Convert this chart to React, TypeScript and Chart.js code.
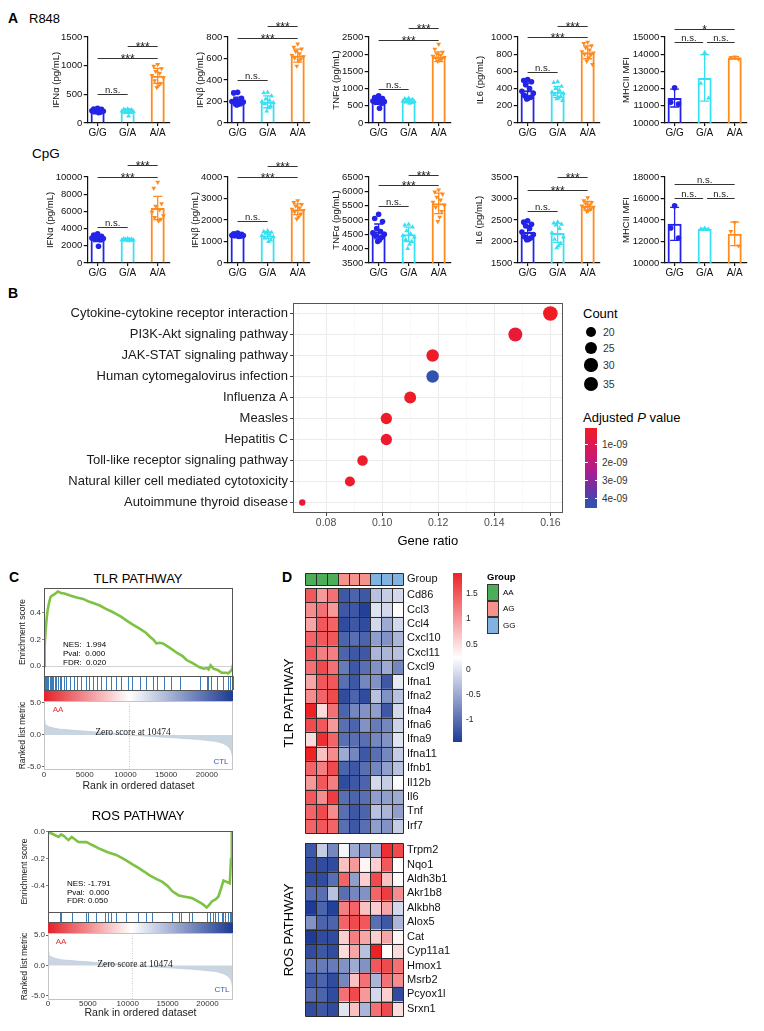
import React, { useEffect, useRef } from 'react';
import { Chart, registerables } from 'chart.js';

Chart.register(...registerables);

const SANS = '"Liberation Sans", Arial, Helvetica, sans-serif';
const SERIF = '"Liberation Serif", "Times New Roman", serif';
Chart.defaults.font.family = SANS;

/* ====================== Panel A data ====================== */
const GENOTYPES = ['G/G', 'G/A', 'A/A'];
const GEN_COLORS = ['#2323e8', '#38e0f2', '#ff8b1f'];
const JITTER = [0, -0.13, 0.13, -0.065, 0.065, -0.19, 0.19, -0.1, 0.1, 0.03, -0.03, 0.16];

// R848
const R848_IFNA_GG = [255, 245, 238, 230, 222, 212, 205, 198, 190, 180];
const R848_IFNA_GA = [245, 238, 230, 222, 215, 208, 200, 192, 185, 120];
const R848_IFNA_AA = [1020, 990, 950, 900, 870, 830, 790, 740, 690, 650, 620];
const R848_IFNA_MEAN = [215, 205, 823];
const R848_IFNA_SD = [28, 35, 130];
const R848_IFNA_SIG = [{ a: 0, b: 1, y: 500, t: 'n.s.' }, { a: 0, b: 2, y: 1130, t: '***' }, { a: 1, b: 2, y: 1350, t: '***' }];

const R848_IFNB_GG = [285, 280, 230, 215, 205, 200, 195, 190, 182, 175, 168];
const R848_IFNB_GA = [285, 280, 250, 222, 210, 200, 190, 178, 160, 140, 110];
const R848_IFNB_AA = [735, 705, 690, 665, 645, 630, 618, 605, 595, 580, 530];
const R848_IFNB_MEAN = [201, 197, 627];
const R848_IFNB_SD = [40, 55, 60];
const R848_IFNB_SIG = [{ a: 0, b: 1, y: 403, t: 'n.s.' }, { a: 0, b: 2, y: 791, t: '***' }, { a: 1, b: 2, y: 905, t: '***' }];

const R848_TNF_GG = [790, 740, 710, 680, 660, 640, 620, 600, 570, 430];
const R848_TNF_GA = [720, 700, 685, 670, 655, 640, 625, 610, 590, 570];
const R848_TNF_AA = [2290, 2150, 2060, 2010, 1970, 1940, 1910, 1890, 1860, 1830, 1800];
const R848_TNF_MEAN = [630, 640, 1925];
const R848_TNF_SD = [90, 50, 140];
const R848_TNF_SIG = [{ a: 0, b: 1, y: 1000, t: 'n.s.' }, { a: 0, b: 2, y: 2400, t: '***' }, { a: 1, b: 2, y: 2750, t: '***' }];

const R848_IL6_GG = [505, 495, 480, 445, 400, 370, 345, 320, 300, 290, 280];
const R848_IL6_GA = [480, 470, 425, 400, 380, 360, 345, 330, 310, 290, 280, 260];
const R848_IL6_AA = [940, 925, 900, 875, 850, 830, 815, 800, 790, 760, 720, 680];
const R848_IL6_MEAN = [380, 362, 822];
const R848_IL6_SD = [85, 65, 75];
const R848_IL6_SIG = [{ a: 0, b: 1, y: 589, t: 'n.s.' }, { a: 0, b: 2, y: 996, t: '***' }, { a: 1, b: 2, y: 1124, t: '***' }];

const R848_MHC_GG = [12050, 11200, 11100];
const R848_MHC_GA = [14100, 12300, 11450];
const R848_MHC_AA = [13850, 13800, 13720];
const R848_MHC_MEAN = [11450, 12620, 13790];
const R848_MHC_SD = [520, 1350, 65];
const R848_MHC_SIG = [{ a: 0, b: 0.95, y: 14690, t: 'n.s.' }, { a: 1.08, b: 2, y: 14690, t: 'n.s.' }, { a: 0, b: 2, y: 15465, t: '*' }];

// CpG
const CPG_IFNA_GG = [3400, 3250, 3100, 3000, 2950, 2900, 2850, 2780, 2700, 1950];
const CPG_IFNA_GA = [2850, 2820, 2790, 2760, 2730, 2700, 2680, 2650, 2620, 2580];
const CPG_IFNA_AA = [9400, 8700, 6900, 6600, 6200, 5900, 5500, 5300, 5100, 4900];
const CPG_IFNA_MEAN = [2890, 2720, 6400];
const CPG_IFNA_SD = [400, 90, 1350];
const CPG_IFNA_SIG = [{ a: 0, b: 1, y: 4186, t: 'n.s.' }, { a: 0, b: 2, y: 10000, t: '***' }, { a: 1, b: 2, y: 11434, t: '***' }];

const CPG_IFNB_GG = [1390, 1360, 1340, 1320, 1300, 1290, 1280, 1265, 1250, 1230];
const CPG_IFNB_GA = [1500, 1460, 1420, 1380, 1330, 1280, 1220, 1160, 1060, 1000];
const CPG_IFNB_AA = [2900, 2820, 2720, 2650, 2560, 2500, 2450, 2380, 2280, 2150, 2050];
const CPG_IFNB_MEAN = [1300, 1280, 2500];
const CPG_IFNB_SD = [50, 150, 250];
const CPG_IFNB_SIG = [{ a: 0, b: 1, y: 1969, t: 'n.s.' }, { a: 0, b: 2, y: 4000, t: '***' }, { a: 1, b: 2, y: 4527, t: '***' }];

const CPG_TNF_GG = [5200, 5050, 4950, 4700, 4600, 4550, 4500, 4450, 4400, 4300, 4250];
const CPG_TNF_GA = [4850, 4820, 4750, 4620, 4520, 4460, 4400, 4320, 4250, 4150, 4000];
const CPG_TNF_AA = [6050, 5980, 5900, 5800, 5700, 5620, 5520, 5450, 5300, 5100, 4950];
const CPG_TNF_MEAN = [4600, 4500, 5580];
const CPG_TNF_SD = [260, 250, 360];
const CPG_TNF_SIG = [{ a: 0, b: 1, y: 5477, t: 'n.s.' }, { a: 0, b: 2, y: 6233, t: '***' }, { a: 1, b: 2, y: 6581, t: '***' }];

const CPG_IL6_GG = [2480, 2450, 2400, 2360, 2300, 2220, 2160, 2110, 2080, 2050, 2040];
const CPG_IL6_GA = [2450, 2430, 2400, 2380, 2300, 2200, 2100, 2050, 1950, 1900, 1850];
const CPG_IL6_AA = [3020, 2950, 2910, 2880, 2850, 2830, 2800, 2780, 2750, 2720, 2700];
const CPG_IL6_MEAN = [2220, 2200, 2830];
const CPG_IL6_SD = [150, 220, 100];
const CPG_IL6_SIG = [{ a: 0, b: 1, y: 2717, t: 'n.s.' }, { a: 0, b: 2, y: 3205, t: '***' }, { a: 1, b: 2, y: 3492, t: '***' }];

const CPG_MHC_GG = [15330, 13260, 12330];
const CPG_MHC_GA = [13220, 13160, 13110];
const CPG_MHC_AA = [13780, 12950, 11600];
const CPG_MHC_MEAN = [13640, 13160, 12710];
const CPG_MHC_SD = [1540, 55, 1100];
const CPG_MHC_SIG = [{ a: 0, b: 0.95, y: 16047, t: 'n.s.' }, { a: 1.08, b: 2, y: 16047, t: 'n.s.' }, { a: 0, b: 2, y: 17380, t: 'n.s.' }];

const A_CHARTS = [
  { ax: 88, top: 37, tOff: 31, title: 'IFNα (pg/mL)', min: 0, max: 1500, step: 500, gg: R848_IFNA_GG, ga: R848_IFNA_GA, aa: R848_IFNA_AA, mean: R848_IFNA_MEAN, sd: R848_IFNA_SD, br: R848_IFNA_SIG },
  { ax: 228, top: 37, tOff: 27, title: 'IFNβ (pg/mL)', min: 0, max: 800, step: 200, gg: R848_IFNB_GG, ga: R848_IFNB_GA, aa: R848_IFNB_AA, mean: R848_IFNB_MEAN, sd: R848_IFNB_SD, br: R848_IFNB_SIG },
  { ax: 369, top: 37, tOff: 32, title: 'TNFα (pg/mL)', min: 0, max: 2500, step: 500, gg: R848_TNF_GG, ga: R848_TNF_GA, aa: R848_TNF_AA, mean: R848_TNF_MEAN, sd: R848_TNF_SD, br: R848_TNF_SIG },
  { ax: 518, top: 37, tOff: 37, title: 'IL6 (pg/mL)', min: 0, max: 1000, step: 200, gg: R848_IL6_GG, ga: R848_IL6_GA, aa: R848_IL6_AA, mean: R848_IL6_MEAN, sd: R848_IL6_SD, br: R848_IL6_SIG },
  { ax: 665, top: 37, tOff: 38, title: 'MHCII MFI', min: 10000, max: 15000, step: 1000, gg: R848_MHC_GG, ga: R848_MHC_GA, aa: R848_MHC_AA, mean: R848_MHC_MEAN, sd: R848_MHC_SD, br: R848_MHC_SIG },
  { ax: 88, top: 177, tOff: 37, title: 'IFNα (pg/mL)', min: 0, max: 10000, step: 2000, gg: CPG_IFNA_GG, ga: CPG_IFNA_GA, aa: CPG_IFNA_AA, mean: CPG_IFNA_MEAN, sd: CPG_IFNA_SD, br: CPG_IFNA_SIG },
  { ax: 228, top: 177, tOff: 32, title: 'IFNβ (pg/mL)', min: 0, max: 4000, step: 1000, gg: CPG_IFNB_GG, ga: CPG_IFNB_GA, aa: CPG_IFNB_AA, mean: CPG_IFNB_MEAN, sd: CPG_IFNB_SD, br: CPG_IFNB_SIG },
  { ax: 369, top: 177, tOff: 32, title: 'TNFα (pg/mL)', min: 3500, max: 6500, step: 500, gg: CPG_TNF_GG, ga: CPG_TNF_GA, aa: CPG_TNF_AA, mean: CPG_TNF_MEAN, sd: CPG_TNF_SD, br: CPG_TNF_SIG },
  { ax: 518, top: 177, tOff: 38, title: 'IL6 (pg/mL)', min: 1500, max: 3500, step: 500, gg: CPG_IL6_GG, ga: CPG_IL6_GA, aa: CPG_IL6_AA, mean: CPG_IL6_MEAN, sd: CPG_IL6_SD, br: CPG_IL6_SIG },
  { ax: 665, top: 177, tOff: 38, title: 'MHCII MFI', min: 10000, max: 18000, step: 2000, gg: CPG_MHC_GG, ga: CPG_MHC_GA, aa: CPG_MHC_AA, mean: CPG_MHC_MEAN, sd: CPG_MHC_SD, br: CPG_MHC_SIG },
];

/* ====================== Panel B data ====================== */
const PATHWAYS = [
  'Cytokine-cytokine receptor interaction',
  'PI3K-Akt signaling pathway',
  'JAK-STAT signaling pathway',
  'Human cytomegalovirus infection',
  'Influenza A',
  'Measles',
  'Hepatitis C',
  'Toll-like receptor signaling pathway',
  'Natural killer cell mediated cytotoxicity',
  'Autoimmune thyroid disease',
];
const GENE_RATIO = [0.160, 0.1475, 0.118, 0.118, 0.110, 0.1015, 0.1015, 0.093, 0.0885, 0.0715];
const GENE_COUNT = [36, 33, 27, 27, 25, 23, 23, 21, 20, 16];
const P_ADJ = [6e-11, 4.5e-10, 1.2e-10, 4.4e-9, 1.5e-10, 1.2e-10, 2.5e-10, 1.8e-10, 2.4e-10, 4.0e-10];
const B_MAJOR = [0.08, 0.10, 0.12, 0.14, 0.16];
const B_MINOR = [0.07, 0.09, 0.11, 0.13, 0.15];
const COUNT_BREAKS = [20, 25, 30, 35];
const P_BREAKS = [1e-9, 2e-9, 3e-9, 4e-9];
const P_BREAK_LABELS = ['1e-09', '2e-09', '3e-09', '4e-09'];

/* ====================== Panel C data ====================== */
const GSEA_X_TICKS = [0, 5000, 10000, 15000, 20000];
const ZERO_CROSS = 10474;
const TLR_ES_X = [0, 80, 200, 330, 450, 600, 800, 1000, 1300, 1700, 2100, 2500, 3200, 4000, 4800, 5500, 6200, 6850, 7600, 8300, 8900, 9500, 10200, 10950, 11800, 12500, 13000, 13400, 13800, 14200, 14600, 15500, 16300, 17000, 17500, 18300, 19100, 19600, 20000, 20200, 20450, 20800, 21300, 21800, 22300, 22600, 22900, 23100, 23200];
const TLR_ES_Y = [0, 0.15, 0.27, 0.36, 0.42, 0.47, 0.52, 0.53, 0.54, 0.56, 0.55, 0.545, 0.53, 0.515, 0.505, 0.485, 0.47, 0.455, 0.43, 0.41, 0.39, 0.37, 0.34, 0.31, 0.28, 0.25, 0.22, 0.2, 0.17, 0.175, 0.17, 0.135, 0.10, 0.075, 0.045, 0.02, -0.01, -0.02, -0.015, -0.025, 0.005, -0.02, -0.03, -0.05, -0.05, -0.055, -0.04, -0.02, 0.01];
const TLR_HITS = [80, 200, 330, 410, 530, 700, 820, 940, 1110, 1310, 1520, 1720, 1930, 2130, 2420, 2750, 3160, 3650, 4060, 4590, 5120, 5530, 6020, 6520, 7050, 7660, 8280, 8810, 9510, 10250, 10860, 11760, 12580, 13400, 13810, 14710, 15530, 16680, 19140, 19960, 20160, 20450, 21190, 22000, 22620, 22830, 23030, 23150];
const ROS_ES_X = [0, 600, 1320, 1650, 2000, 2560, 2975, 3400, 3800, 4400, 4830, 5300, 5660, 6300, 6900, 7500, 8550, 9200, 9800, 10600, 11450, 12100, 12700, 13500, 14340, 15000, 15600, 16400, 17200, 18060, 18700, 19300, 19900, 20300, 20540, 21000, 21360, 21700, 22000, 22400, 22800, 22950, 23050];
const ROS_ES_Y = [0, -0.015, -0.037, -0.017, -0.03, -0.06, -0.037, -0.055, -0.074, -0.075, -0.074, -0.09, -0.1, -0.12, -0.135, -0.15, -0.17, -0.19, -0.21, -0.24, -0.27, -0.295, -0.32, -0.345, -0.37, -0.4, -0.44, -0.47, -0.48, -0.49, -0.51, -0.53, -0.56, -0.535, -0.515, -0.5, -0.48, -0.42, -0.36, -0.37, -0.38, -0.2, 0.01];
const ROS_HITS = [1450, 1650, 2970, 4750, 5040, 6070, 7100, 7520, 7930, 8550, 9790, 11240, 12270, 13010, 15580, 16400, 16740, 17650, 18060, 19920, 20330, 20750, 20950, 21360, 21780, 21980, 22190, 22600, 22810, 22930];
const RANK_POS = [0, 100, 300, 600, 1000, 1500, 2000, 3000, 4000, 5000, 6000, 7000, 8000, 9000, 10000, 10474, 11000, 12000, 13000, 14000, 15000, 16000, 17000, 18000, 19000, 20000, 21000, 21500, 22000, 22500, 22800, 23000, 23100, 23200];
const RANK_METRIC = [2.2, 1.8, 1.5, 1.3, 1.15, 1.0, 0.9, 0.8, 0.68, 0.6, 0.5, 0.42, 0.33, 0.22, 0.1, 0, -0.07, -0.15, -0.22, -0.3, -0.38, -0.45, -0.55, -0.62, -0.72, -0.85, -1.0, -1.15, -1.35, -1.7, -2.1, -2.6, -3.2, -4.0];
const GSEA_RANK_TICKS = [-5, -2.5, 0, 2.5, 5];

/* ====================== Panel D data ====================== */
const SAMPLES = ['AA1', 'AA2', 'AA3', 'AG1', 'AG2', 'AG3', 'GG1', 'GG2', 'GG3'];
const SAMPLE_GROUP = ['AA', 'AA', 'AA', 'AG', 'AG', 'AG', 'GG', 'GG', 'GG'];
const GROUP_NAMES = ['AA', 'AG', 'GG'];
const GROUP_COLORS: any = { AA: '#4cae57', AG: '#f4928b', GG: '#80b2e2' };
const TLR_GENES = ['Cd86', 'Ccl3', 'Ccl4', 'Cxcl10', 'Cxcl11', 'Cxcl9', 'Ifna1', 'Ifna2', 'Ifna4', 'Ifna6', 'Ifna9', 'Ifna11', 'Ifnb1', 'Il12b', 'Il6', 'Tnf', 'Irf7'];
const TLR_Z = [
  [1.5, 1.0, 1.3, -1.2, -1.1, -1.2, -0.3, -0.2, -0.1],
  [1.1, 1.3, 1.0, -1.2, -1.2, -1.4, 0.0, -0.1, 0.25],
  [0.9, 1.5, 1.4, -1.3, -1.2, -1.3, -0.1, -0.5, -0.1],
  [1.4, 1.5, 1.5, -1.1, -1.0, -1.1, -0.6, -0.7, -0.4],
  [1.5, 1.2, 1.2, -1.1, -1.2, -1.2, -0.4, -0.4, -0.3],
  [1.3, 1.6, 1.3, -0.9, -1.2, -1.0, -0.7, -0.5, -0.8],
  [0.9, 1.5, 1.5, -1.0, -1.2, -0.8, -0.7, -1.2, 0.05],
  [1.1, 1.4, 1.6, -1.3, -1.1, -1.3, -0.3, -0.7, -0.3],
  [1.9, 0.5, 1.3, -1.1, -0.8, -0.7, -0.6, -1.2, -0.1],
  [1.6, 1.5, 1.0, -1.0, -1.1, -0.7, -0.9, -0.8, -0.15],
  [0.5, 1.8, 1.4, -1.0, -1.0, -1.0, -0.8, -0.7, 0.0],
  [1.9, 0.7, 1.1, -0.5, -0.8, -1.2, -1.0, -0.8, -0.2],
  [1.4, 1.2, 1.6, -1.1, -1.2, -1.0, -0.8, -0.6, -0.3],
  [1.0, 1.5, 1.2, -1.3, -1.2, -1.1, -0.1, -0.2, 0.2],
  [1.5, 1.1, 1.7, -1.0, -1.1, -1.0, -0.6, -0.6, -0.5],
  [1.4, 1.6, 1.1, -1.0, -1.2, -1.1, -0.3, -0.4, -0.6],
  [1.4, 1.5, 1.4, -1.0, -1.2, -1.0, -0.6, -0.7, -0.2],
];
const ROS_GENES = ['Trpm2', 'Nqo1', 'Aldh3b1', 'Akr1b8', 'Alkbh8', 'Alox5', 'Cat', 'Cyp11a1', 'Hmox1', 'Msrb2', 'Pcyox1l', 'Srxn1'];
const ROS_Z = [
  [-1.2, -0.2, -0.8, 0.15, -0.5, -0.7, -0.5, 1.8, 1.6],
  [-1.3, -1.3, -1.3, 0.7, 1.0, 0.3, 0.6, 1.5, 0.25],
  [-1.3, -1.3, -1.0, 1.4, -0.6, 0.6, 1.6, 0.7, 0.25],
  [-1.0, -1.0, -0.3, -1.0, -0.8, -0.7, 1.4, 1.7, 1.1],
  [-1.5, -1.1, -1.4, 1.2, 1.4, 0.7, 0.6, 0.9, -0.1],
  [-0.7, -1.1, -1.1, 1.4, 1.6, 1.5, -1.0, -1.2, -0.4],
  [-1.5, -1.3, -1.3, 0.6, 1.2, 0.9, 0.6, 0.9, 0.3],
  [-1.3, -1.2, -1.3, 0.5, 0.9, -0.3, 1.9, 0.25, 0.5],
  [-0.9, -0.9, -0.9, -0.7, -0.5, -0.7, 1.5, 1.6, 1.3],
  [-1.2, -1.1, -1.3, -0.8, 0.7, 1.3, -0.4, 1.3, 1.1],
  [-1.0, -1.1, -1.3, 1.3, 1.6, 1.0, -0.1, 0.6, -1.3],
  [-1.3, -1.2, -1.3, 0.0, 0.7, -0.4, 1.3, 1.6, 0.5],
];
const Z_BREAKS = [1.5, 1, 0.5, 0, -0.5, -1];

/* ====================== colour helpers ====================== */
const clamp01 = (t: number) => Math.max(0, Math.min(1, t));
function rampColor(stops: any[], t: number) {
  t = clamp01(t);
  for (let i = 1; i < stops.length; i++) {
    if (t <= stops[i][0]) {
      const [t0, c0] = stops[i - 1];
      const [t1, c1] = stops[i];
      const u = (t - t0) / (t1 - t0);
      return `rgb(${c0.map((v: number, k: number) => Math.round(v + (c1[k] - v) * u)).join(',')})`;
    }
  }
  const c = stops[stops.length - 1][1];
  return `rgb(${c.join(',')})`;
}
function cssGradient(stops: any[]) {
  return `linear-gradient(to bottom, ${stops.map((s) => `rgb(${s[1].join(',')}) ${s[0] * 100}%`).join(', ')})`;
}
const P_MIN = 5.6e-11;
const P_MAX = 4.5e-9;
const P_STOPS = [[0, [240, 28, 36]], [0.3, [214, 22, 102]], [0.55, [168, 30, 146]], [0.8, [96, 56, 166]], [1, [42, 86, 176]]];
const pColor = (p: number) => rampColor(P_STOPS, (p - P_MIN) / (P_MAX - P_MIN));
const C_MIN = 16;
const C_MAX = 36;
const countRadius = (c: number) => 3.2 + 4.1 * Math.sqrt(Math.max(0, (c - C_MIN) / (C_MAX - C_MIN)));
const Z_LO = -1.44;
const Z_HI = 1.9;
const Z_STOPS = [[0, [236, 34, 39]], [0.5, [255, 255, 255]], [1, [30, 60, 150]]];
const zColor = (z: number) => rampColor(Z_STOPS, (Z_HI - z) / (Z_HI - Z_LO));

/* ====================== text helper ====================== */
function Txt(p: any) {
  const { x, y, s, c = '#000', a = 'left', f = SANS, w = 'normal', rot = false, it = false } = p;
  const tx = a === 'center' ? '-50%' : a === 'right' ? '-100%' : '0';
  const style: any = {
    position: 'absolute', left: x, top: y - s / 2, fontSize: s, lineHeight: `${s}px`, fontFamily: f,
    fontWeight: w, color: c, whiteSpace: 'pre', transform: `translateX(${tx})`, fontStyle: it ? 'italic' : 'normal',
  };
  if (rot) {
    style.top = y;
    style.transform = 'translate(-50%, -50%) rotate(-90deg)';
  }
  return <div style={style}>{p.children}</div>;
}

/* ====================== Panel A chart ====================== */
function SmallBar(p: any) {
  const ref = useRef<HTMLCanvasElement>(null);
  const PAD_T = 28, PLOT_W = 82, PLOT_H = 86, XAX_H = 18, PAD_R = 6;
  const yW = p.tOff + 5.7;
  const W = Math.ceil(yW + PLOT_W + PAD_R);
  const H = PAD_T + PLOT_H + XAX_H;
  useEffect(() => {
    const groups = [p.gg, p.ga, p.aa];
    const styles = ['circle', 'triangle', 'triangle'];
    const rots = [0, 0, 180];
    const errPlugin = {
      id: 'err',
      afterDatasetDraw(chart: any, args: any) {
        if (args.index !== 0) return;
        const { ctx, scales: { x, y } } = chart;
        ctx.save();
        p.mean.forEach((m: number, i: number) => {
          const px = x.getPixelForValue(i);
          const hi = y.getPixelForValue(m + p.sd[i]);
          const loV = m - p.sd[i];
          const lo = y.getPixelForValue(Math.max(loV, y.min));
          ctx.strokeStyle = GEN_COLORS[i];
          ctx.lineWidth = 1.3;
          ctx.beginPath();
          ctx.moveTo(px, hi); ctx.lineTo(px, lo);
          ctx.moveTo(px - 4.5, hi); ctx.lineTo(px + 4.5, hi);
          if (loV > y.min) { ctx.moveTo(px - 4.5, lo); ctx.lineTo(px + 4.5, lo); }
          ctx.stroke();
        });
        ctx.restore();
      },
    };
    const sigPlugin = {
      id: 'sig',
      afterDraw(chart: any) {
        const { ctx, scales: { x, y } } = chart;
        ctx.save();
        p.br.forEach((b: any) => {
          const py = Math.round(y.getPixelForValue(b.y)) + 0.5;
          const x1 = x.getPixelForValue(b.a);
          const x2 = x.getPixelForValue(b.b);
          ctx.strokeStyle = '#333';
          ctx.lineWidth = 1;
          ctx.beginPath(); ctx.moveTo(x1, py); ctx.lineTo(x2, py); ctx.stroke();
          const star = b.t !== 'n.s.';
          ctx.font = `${star ? 12 : 9.5}px ${SANS}`;
          ctx.fillStyle = '#222';
          ctx.textAlign = 'center';
          ctx.textBaseline = 'alphabetic';
          ctx.fillText(b.t, (x1 + x2) / 2, star ? py + 4 : py - 1.5);
        });
        ctx.restore();
      },
    };
    const axisCol = '#111';
    const chart = new Chart(ref.current as HTMLCanvasElement, {
      type: 'bar',
      data: {
        datasets: [
          {
            type: 'bar', data: p.mean.map((m: number, i: number) => ({ x: i, y: m })),
            backgroundColor: 'rgba(255,255,255,0)', borderColor: GEN_COLORS, borderWidth: 2,
            barPercentage: 0.52, categoryPercentage: 0.9, order: 2,
          },
          ...groups.map((pts: number[], g: number) => ({
            type: 'scatter', data: pts.map((v, i) => ({ x: g + JITTER[i % JITTER.length], y: v })),
            pointStyle: styles[g], pointRotation: rots[g], pointRadius: 2.8,
            pointBackgroundColor: GEN_COLORS[g], pointBorderColor: GEN_COLORS[g], pointBorderWidth: 0,
            showLine: false, clip: false, order: 1,
          })),
        ],
      } as any,
      options: {
        responsive: false, animation: false, devicePixelRatio: 1,
        layout: { padding: { top: PAD_T, right: W - yW - PLOT_W, bottom: 0, left: 0 } },
        plugins: { legend: { display: false }, tooltip: { enabled: false } },
        scales: {
          x: {
            type: 'linear', min: -0.33, max: 2.4, offset: false,
            afterBuildTicks: (s: any) => { s.ticks = [0, 1, 2].map((v) => ({ value: v })); },
            ticks: { callback: (v: any) => GENOTYPES[v] ?? '', font: { family: SANS, size: 10 }, color: axisCol, padding: 1, maxRotation: 0, autoSkip: false },
            grid: { offset: false, drawOnChartArea: false, tickLength: 3, color: axisCol, lineWidth: 1.2 },
            border: { color: axisCol, width: 1.2 },
            afterFit: (s: any) => { s.height = XAX_H; },
          },
          y: {
            type: 'linear', min: p.min, max: p.max,
            ticks: { stepSize: p.step, callback: (v: any) => String(v), font: { family: SANS, size: 9.5 }, color: axisCol, padding: 1.5, autoSkip: false },
            grid: { drawOnChartArea: false, tickLength: 4, color: axisCol, lineWidth: 1.2 },
            border: { color: axisCol, width: 1.2 },
            title: { display: true, text: p.title, font: { family: SANS, size: 9.5 }, color: axisCol, padding: 0 },
            afterFit: (s: any) => { s.width = yW; },
          },
        },
      } as any,
      plugins: [errPlugin, sigPlugin],
    });
    return () => chart.destroy();
  }, []);
  return <canvas ref={ref} width={W} height={H} style={{ position: 'absolute', left: p.ax - yW, top: p.top - PAD_T, width: W, height: H }} />;
}

/* ====================== Panel B chart ====================== */
function DotPlot() {
  const ref = useRef<HTMLCanvasElement>(null);
  const PAD_T = 12;
  const LEFT = 60, TOP = 303 - PAD_T, W = 510, H = PAD_T + 210 + 36;
  useEffect(() => {
    const isMajor = (v: number) => B_MAJOR.some((m) => Math.abs(m - v) < 1e-6);
    const ticks = [...B_MAJOR, ...B_MINOR].sort((a, b) => a - b);
    const borderPlugin = {
      id: 'panelBorder',
      afterDatasetsDraw(chart: any) {
        const { ctx, chartArea: ca } = chart;
        ctx.save();
        ctx.strokeStyle = '#555';
        ctx.lineWidth = 1;
        ctx.strokeRect(Math.round(ca.left) + 0.5, Math.round(ca.top) + 0.5, Math.round(ca.right - ca.left) - 1, Math.round(ca.bottom - ca.top) - 1);
        ctx.restore();
      },
    };
    const chart = new Chart(ref.current as HTMLCanvasElement, {
      type: 'bubble',
      data: {
        datasets: [{
          data: PATHWAYS.map((pw, i) => ({ x: GENE_RATIO[i], y: pw, r: countRadius(GENE_COUNT[i]) })),
          backgroundColor: P_ADJ.map(pColor), borderWidth: 0, hoverBorderWidth: 0,
        }],
      } as any,
      options: {
        responsive: false, animation: false, devicePixelRatio: 1,
        layout: { padding: { top: PAD_T, right: 4, bottom: 0, left: 0 } },
        plugins: { legend: { display: false }, tooltip: { enabled: false } },
        scales: {
          x: {
            type: 'linear', min: 0.0682, max: 0.1644,
            afterBuildTicks: (s: any) => { s.ticks = ticks.map((v) => ({ value: v })); },
            ticks: { callback: (v: any) => (isMajor(v) ? Number(v).toFixed(2) : ''), font: { family: SANS, size: 10.5 }, color: '#4d4d4d', padding: 1, autoSkip: false, maxRotation: 0 },
            grid: {
              color: (c: any) => (c.tick && isMajor(c.tick.value) ? '#ebebeb' : '#f5f5f5'),
              lineWidth: (c: any) => (c.tick && isMajor(c.tick.value) ? 1 : 0.6),
              tickColor: (c: any) => (c.tick && isMajor(c.tick.value) ? '#444' : 'rgba(0,0,0,0)'),
              tickLength: 3,
            },
            border: { display: false },
            title: { display: true, text: 'Gene ratio', font: { family: SANS, size: 13 }, color: '#000', padding: 0 },
            afterFit: (s: any) => { s.height = 36; },
          },
          y: {
            type: 'category', labels: PATHWAYS, offset: true,
            ticks: { font: { family: SANS, size: 13 }, color: '#1a1a1a', padding: 2, autoSkip: false },
            grid: { color: '#ebebeb', tickColor: '#444', tickLength: 3 },
            border: { display: false },
            afterFit: (s: any) => { s.width = 233; },
          },
        },
      } as any,
      plugins: [borderPlugin],
    });
    return () => chart.destroy();
  }, []);
  return <canvas ref={ref} width={W} height={H} style={{ position: 'absolute', left: LEFT, top: TOP, width: W, height: H }} />;
}

/* ====================== Panel C chart ====================== */
function Gsea(p: any) {
  const ref = useRef<HTMLCanvasElement>(null);
  const PAD_T = 6, PAD_R = 4, RIGHT = 233;
  const chartH = p.wES + p.wBand + p.wRank;
  const W = p.yW + (RIGHT - p.ax) + PAD_R;
  const H = PAD_T + chartH + p.xAxH;
  useEffect(() => {
    const gseaPlugin = {
      id: 'gsea',
      afterDatasetsDraw(chart: any) {
        const { ctx, chartArea: ca, scales } = chart;
        const x = scales.x, es = scales.yES, band = scales.yBand, rk = scales.yRank;
        ctx.save();
        const gTop = band.getPixelForValue(p.gradFrac);
        const gBot = band.getPixelForValue(0);
        const zf = (x.getPixelForValue(ZERO_CROSS) - ca.left) / (ca.right - ca.left);
        const grad = ctx.createLinearGradient(ca.left, 0, ca.right, 0);
        grad.addColorStop(0, '#e4222a');
        grad.addColorStop(zf, '#ffffff');
        grad.addColorStop(1, '#1b3a93');
        ctx.fillStyle = grad;
        ctx.fillRect(ca.left, gTop, ca.right - ca.left, gBot - gTop);
        const hTop = band.getPixelForValue(1);
        ctx.strokeStyle = '#3b7bb8';
        ctx.lineWidth = 1;
        ctx.beginPath();
        p.hits.forEach((h: number) => {
          const px = Math.round(x.getPixelForValue(h)) + 0.5;
          ctx.moveTo(px, hTop); ctx.lineTo(px, gTop);
        });
        ctx.stroke();
        ctx.strokeStyle = '#555';
        ctx.strokeRect(ca.left + 0.5, Math.round(es.top) + 0.5, ca.right - ca.left - 1, Math.round(es.bottom - es.top));
        ctx.strokeRect(ca.left + 0.5, Math.round(hTop) + 0.5, ca.right - ca.left - 1, Math.round(gTop - hTop));
        ctx.strokeStyle = '#c4c4c4';
        ctx.strokeRect(ca.left + 0.5, Math.round(rk.top) + 0.5, ca.right - ca.left - 1, Math.round(rk.bottom - rk.top) - 1);
        const zx = Math.round(x.getPixelForValue(ZERO_CROSS)) + 0.5;
        ctx.strokeStyle = '#c8c8c8';
        ctx.setLineDash([1, 1.5]);
        ctx.beginPath(); ctx.moveTo(zx, rk.top); ctx.lineTo(zx, rk.bottom); ctx.stroke();
        ctx.restore();
      },
    };
    const tickFont = { family: SANS, size: 8 };
    const chart = new Chart(ref.current as HTMLCanvasElement, {
      type: 'line',
      data: {
        datasets: [
          {
            data: p.esX.map((r: number, i: number) => ({ x: r, y: p.esY[i] })), yAxisID: 'yES',
            borderColor: '#7dc242', borderWidth: 2.6, pointRadius: 0, tension: 0, fill: false,
          },
          {
            data: RANK_POS.map((r, i) => ({ x: r, y: RANK_METRIC[i] })), yAxisID: 'yRank',
            borderColor: '#b9c8d6', backgroundColor: '#c9d5e1', borderWidth: 0.6, pointRadius: 0, tension: 0, fill: 'origin',
          },
        ],
      } as any,
      options: {
        responsive: false, animation: false, devicePixelRatio: 1,
        layout: { padding: { top: PAD_T, right: PAD_R, bottom: 0, left: 0 } },
        plugins: { legend: { display: false }, tooltip: { enabled: false } },
        scales: {
          x: {
            type: 'linear', min: 0, max: p.xMax,
            afterBuildTicks: (s: any) => { s.ticks = GSEA_X_TICKS.map((v) => ({ value: v })); },
            ticks: { font: tickFont, color: '#333', padding: p.xTickPad, maxRotation: 0, autoSkip: false, callback: (v: any) => String(v) },
            grid: { display: false, drawTicks: false },
            border: { display: false },
            title: { display: true, text: 'Rank in ordered dataset', font: { family: SANS, size: 10.5 }, color: '#222', padding: 0 },
            afterFit: (s: any) => { s.height = p.xAxH; },
          },
          yES: {
            type: 'linear', position: 'left', stack: 'gsea', stackWeight: p.wES, weight: 3,
            min: p.esMin, max: p.esMax,
            afterBuildTicks: (s: any) => { s.ticks = p.esTicks.map((v: number) => ({ value: v })); },
            ticks: { font: tickFont, color: '#333', padding: 1, callback: (v: any) => Number(v).toFixed(1) },
            grid: {
              color: (c: any) => (c.tick && Math.abs(c.tick.value) < 1e-9 ? '#c8c8c8' : 'rgba(0,0,0,0)'),
              tickColor: '#666', tickLength: 2, lineWidth: 0.8,
            },
            border: { display: false },
            title: { display: true, text: 'Enrichment score', font: { family: SANS, size: 8.5 }, color: '#222', padding: 0 },
            afterFit: (s: any) => { s.width = p.yW; },
          },
          yBand: {
            type: 'linear', position: 'left', stack: 'gsea', stackWeight: p.wBand, weight: 2,
            min: 0, max: 1,
            ticks: { display: false },
            grid: { display: false, drawTicks: false },
            border: { display: false },
            afterFit: (s: any) => { s.width = p.yW; },
          },
          yRank: {
            type: 'linear', position: 'left', stack: 'gsea', stackWeight: p.wRank, weight: 1,
            min: p.rankMin, max: p.rankMax,
            afterBuildTicks: (s: any) => { s.ticks = GSEA_RANK_TICKS.map((v) => ({ value: v })); },
            ticks: { font: tickFont, color: '#333', padding: 1, callback: (v: any) => Number(v).toFixed(1) },
            grid: { drawOnChartArea: false, tickColor: '#666', tickLength: 2 },
            border: { display: false },
            title: { display: true, text: 'Ranked list metric', font: { family: SANS, size: 8.5 }, color: '#222', padding: 0 },
            afterFit: (s: any) => { s.width = p.yW; },
          },
        },
      } as any,
      plugins: [gseaPlugin],
    });
    return () => chart.destroy();
  }, []);
  return <canvas ref={ref} width={W} height={H} style={{ position: 'absolute', left: p.ax - p.yW, top: p.esTop - PAD_T, width: W, height: H }} />;
}

/* ====================== Panel D chart ====================== */
function Heat(p: any) {
  const ref = useRef<HTMLCanvasElement>(null);
  const PAD = 12, LEFT = 305, PLOT_W = 98, AXW = 70;
  const H = PAD * 2 + p.rowH * p.labels.length;
  const W = 2 + PLOT_W + AXW;
  useEffect(() => {
    const gridPlugin = {
      id: 'cells',
      afterDatasetsDraw(chart: any) {
        const { ctx, scales: { x, y } } = chart;
        const n = p.labels.length;
        const top = Math.round(y.getPixelForValue(-0.5)) + 0.5, bot = Math.round(y.getPixelForValue(n - 0.5)) + 0.5;
        const l = Math.round(x.getPixelForValue(0)) + 0.5, r = Math.round(x.getPixelForValue(SAMPLES.length)) + 0.5;
        ctx.save();
        ctx.strokeStyle = '#2b2b2b';
        ctx.lineWidth = 1;
        ctx.beginPath();
        for (let k = 0; k <= SAMPLES.length; k++) {
          const px = Math.round(x.getPixelForValue(k)) + 0.5;
          ctx.moveTo(px, top); ctx.lineTo(px, bot);
        }
        for (let i = 0; i <= n; i++) {
          const py = Math.round(y.getPixelForValue(i - 0.5)) + 0.5;
          ctx.moveTo(l, py); ctx.lineTo(r, py);
        }
        ctx.stroke();
        ctx.restore();
      },
    };
    const chart = new Chart(ref.current as HTMLCanvasElement, {
      type: 'bar',
      data: {
        labels: p.labels,
        datasets: SAMPLES.map((s, j) => ({
          label: s,
          data: p.labels.map(() => [j, j + 1]),
          backgroundColor: p.cells.map((row: string[]) => row[j]),
          borderWidth: 0, barPercentage: 1, categoryPercentage: 1, grouped: false,
        })),
      } as any,
      options: {
        indexAxis: 'y', responsive: false, animation: false, devicePixelRatio: 1,
        layout: { padding: { top: PAD, bottom: PAD, left: 2, right: 0 } },
        plugins: { legend: { display: false }, tooltip: { enabled: false } },
        scales: {
          x: { type: 'linear', min: 0, max: SAMPLES.length, display: false },
          y: {
            type: 'category', position: 'right', offset: true,
            grid: { display: false, drawTicks: false },
            border: { display: false },
            ticks: { font: { family: SANS, size: 11 }, color: '#111', padding: 4, autoSkip: false },
            afterFit: (s: any) => { s.width = AXW; },
          },
        },
      } as any,
      plugins: [gridPlugin],
    });
    return () => chart.destroy();
  }, []);
  return <canvas ref={ref} width={W} height={H} style={{ position: 'absolute', left: LEFT - 2, top: p.top - PAD, width: W, height: H }} />;
}

/* ====================== App ====================== */
export default function App() {
  const pY = (v: number) => 428 + ((v - P_MIN) / (P_MAX - P_MIN)) * 80;
  const zY = (v: number) => 573 + ((Z_HI - v) / (Z_HI - Z_LO)) * 169;
  const tlrCells = TLR_Z.map((row) => row.map(zColor));
  const rosCells = ROS_Z.map((row) => row.map(zColor));
  const groupCells = [SAMPLE_GROUP.map((g) => GROUP_COLORS[g])];
  return (
    <div style={{ position: 'absolute', left: 0, top: 0, width: 764, height: 1031, background: '#fff', fontFamily: SANS, overflow: 'hidden' }}>
      {/* Panel A */}
      <Txt x={8} y={18} s={14} w="bold">A</Txt>
      <Txt x={29} y={18} s={13}>R848</Txt>
      <Txt x={32} y={154} s={13.5}>CpG</Txt>
      {A_CHARTS.map((c, i) => <SmallBar key={i} {...c} />)}

      {/* Panel B */}
      <Txt x={8} y={293} s={14} w="bold">B</Txt>
      <DotPlot />
      <Txt x={583} y={313} s={13}>Count</Txt>
      {COUNT_BREAKS.map((c, i) => {
        const r = countRadius(c);
        const cy = [332, 348, 365, 384][i];
        return (
          <React.Fragment key={c}>
            <div style={{ position: 'absolute', left: 591 - r, top: cy - r, width: 2 * r, height: 2 * r, borderRadius: '50%', background: '#000' }} />
            <Txt x={603} y={cy} s={10.5} c="#333">{String(c)}</Txt>
          </React.Fragment>
        );
      })}
      <Txt x={583} y={417} s={13}>Adjusted <i>P</i> value</Txt>
      <div style={{ position: 'absolute', left: 585, top: 428, width: 12, height: 80, background: cssGradient(P_STOPS) }} />
      {P_BREAKS.map((v, i) => (
        <React.Fragment key={v}>
          <div style={{ position: 'absolute', left: 585, top: pY(v) - 0.5, width: 2.5, height: 1, background: '#fff' }} />
          <div style={{ position: 'absolute', left: 594.5, top: pY(v) - 0.5, width: 2.5, height: 1, background: '#fff' }} />
          <Txt x={602} y={pY(v)} s={10} c="#333">{P_BREAK_LABELS[i]}</Txt>
        </React.Fragment>
      ))}

      {/* Panel C */}
      <Txt x={9} y={577} s={14} w="bold">C</Txt>
      <Txt x={138} y={578} s={13} a="center">TLR PATHWAY</Txt>
      <Gsea ax={44} esTop={588} wES={88} wBand={25} wRank={69} gradFrac={0.44} esMin={-0.075} esMax={0.587} esTicks={[0, 0.2, 0.4]}
        rankMin={-5.47} rankMax={5.3} xMax={23200} xAxH={22} xTickPad={0} yW={26} esX={TLR_ES_X} esY={TLR_ES_Y} hits={TLR_HITS} />
      <Txt x={63} y={645} s={8}>{'NES:  1.994'}</Txt>
      <Txt x={63} y={654} s={8}>{'Pval:  0.000'}</Txt>
      <Txt x={63} y={663} s={8}>{'FDR:  0.020'}</Txt>
      <Txt x={58} y={710} s={8} a="center" c="#e3302f">AA</Txt>
      <Txt x={221} y={762} s={8} a="center" c="#3a5aa8">CTL</Txt>
      <Txt x={133} y={733} s={9.5} a="center" f={SERIF} c="#222">Zero score at 10474</Txt>

      <Txt x={138} y={815} s={13} a="center">ROS PATHWAY</Txt>
      <Gsea ax={48} esTop={831} wES={81} wBand={21} wRank={67} gradFrac={0.52} esMin={-0.593} esMax={0.0074} esTicks={[-0.4, -0.2, 0]}
        rankMin={-5.66} rankMax={5.33} xMax={23200} xAxH={19} xTickPad={-1.5} yW={28} esX={ROS_ES_X} esY={ROS_ES_Y} hits={ROS_HITS} />
      <Txt x={67} y={884} s={8}>{'NES: -1.791'}</Txt>
      <Txt x={67} y={893} s={8}>{'Pval:  0.000'}</Txt>
      <Txt x={67} y={901} s={8}>{'FDR: 0.050'}</Txt>
      <Txt x={61} y={942} s={8} a="center" c="#e3302f">AA</Txt>
      <Txt x={222} y={990} s={8} a="center" c="#3a5aa8">CTL</Txt>
      <Txt x={135} y={965} s={9.5} a="center" f={SERIF} c="#222">Zero score at 10474</Txt>

      {/* Panel D */}
      <Txt x={282} y={577} s={14} w="bold">D</Txt>
      <Heat labels={['Group']} cells={groupCells} top={573} rowH={12} />
      <Heat labels={TLR_GENES} cells={tlrCells} top={588} rowH={245 / 17} />
      <Heat labels={ROS_GENES} cells={rosCells} top={843} rowH={173 / 12} />
      <Txt x={288} y={703} s={13} a="center" rot>TLR PATHWAY</Txt>
      <Txt x={288} y={930} s={13} a="center" rot>ROS PATHWAY</Txt>
      <div style={{ position: 'absolute', left: 453, top: 573, width: 9, height: 169, background: cssGradient(Z_STOPS) }} />
      {Z_BREAKS.map((v) => (
        <Txt key={v} x={466} y={zY(v)} s={8.5} c="#222">{String(v)}</Txt>
      ))}
      <Txt x={487} y={577} s={9.5} w="bold">Group</Txt>
      {GROUP_NAMES.map((g, i) => (
        <React.Fragment key={g}>
          <div style={{ position: 'absolute', left: 487, top: 584 + i * 16.7, width: 12, height: 16.7, boxSizing: 'border-box', border: '1px solid #333', background: GROUP_COLORS[g] }} />
          <Txt x={503} y={592.5 + i * 16.7} s={8}>{g}</Txt>
        </React.Fragment>
      ))}
    </div>
  );
}
